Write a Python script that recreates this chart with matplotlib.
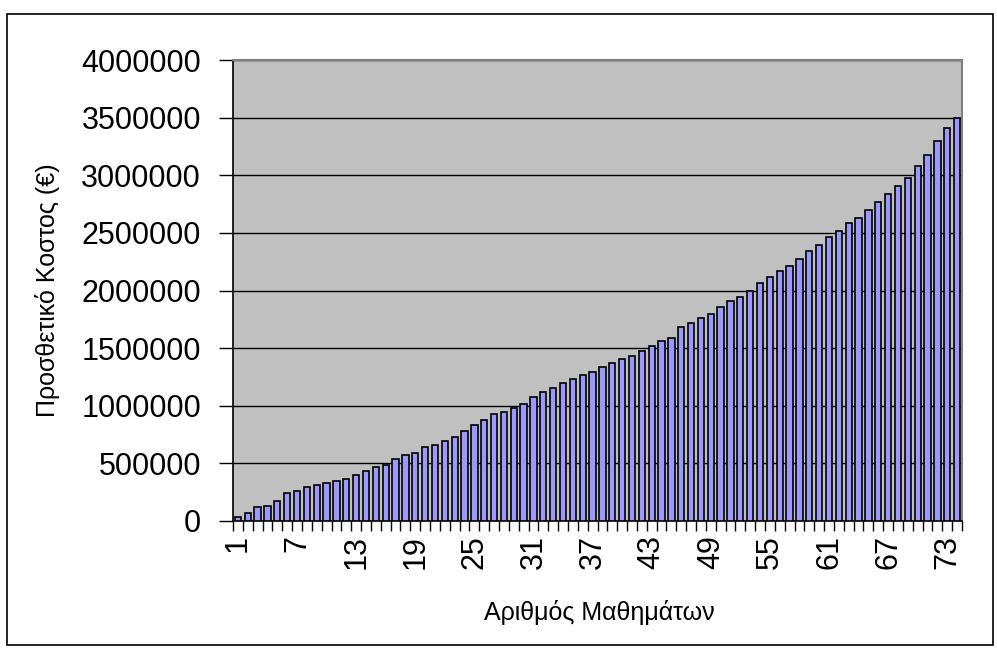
import numpy as np
import matplotlib.pyplot as plt
from matplotlib.patches import Rectangle

plt.rcParams['font.family'] = ['Liberation Sans', 'DejaVu Sans']

# Προσθετικό κόστος ανά αριθμό μαθημάτων
mathimata = list(range(1, 75))
kostos = [32000, 67000, 119000, 133000, 171000, 243000, 257000, 292000, 312000, 330000,
          344000, 364000, 397000, 434000, 466000, 483000, 535000, 570000, 587000, 640000,
          657000, 692000, 726000, 778000, 830000, 879000, 931000, 948000, 983000, 1018000,
          1073000, 1122000, 1157000, 1195000, 1230000, 1264000, 1295000, 1334000, 1368000, 1403000,
          1434000, 1473000, 1521000, 1559000, 1590000, 1681000, 1715000, 1764000, 1799000, 1854000,
          1906000, 1941000, 1993000, 2063000, 2115000, 2169000, 2215000, 2271000, 2340000, 2392000,
          2462000, 2514000, 2586000, 2632000, 2701000, 2771000, 2840000, 2909000, 2980000, 3080000,
          3180000, 3300000, 3410000, 3500000]
y_ticks = [0, 500000, 1000000, 1500000, 2000000, 2500000, 3000000, 3500000, 4000000]
x_labels = [1, 7, 13, 19, 25, 31, 37, 43, 49, 55, 61, 67, 73]

W, H = 997, 653
fig = plt.figure(figsize=(W / 100, H / 100), dpi=100)
ax = fig.add_axes([233 / W, 1 - 521 / H, (962 - 233) / W, (521 - 60) / H])

ax.set_facecolor('#C0C0C0')
ax.bar(mathimata, kostos, width=0.64, color='#9999FF', edgecolor='black', linewidth=1.2, zorder=3)

ax.set_xlim(0.5, len(mathimata) + 0.5)
ax.set_ylim(0, 4000000)
ax.set_yticks(y_ticks)
ax.set_yticklabels([str(v) for v in y_ticks], fontsize=22)
ax.yaxis.grid(True, color='black', linewidth=1.0, zorder=1)

# ετικέτες κάθε 6 μαθήματα, γραμμές στα όρια κατηγοριών
ax.set_xticks(x_labels)
ax.set_xticklabels([str(v) for v in x_labels], rotation=90, fontsize=22)
ax.set_xticks(np.arange(0.5, len(mathimata) + 1, 1), minor=True)
ax.tick_params(axis='x', which='major', length=0, pad=10)
ax.tick_params(axis='x', which='minor', length=7, width=1, color='black')
ax.tick_params(axis='y', length=10, width=1, pad=13)

for s in ['left', 'bottom']:
    ax.spines[s].set_color('black')
    ax.spines[s].set_linewidth(1.2)
for s in ['top', 'right']:
    ax.spines[s].set_color('#808080')
    ax.spines[s].set_linewidth(1.5)

ax.set_xlabel('Αριθμός Μαθημάτων', fontsize=18)
ax.set_ylabel('Προσθετικό Κοστος (€)', fontsize=18)
ax.xaxis.set_label_coords(0.503, -0.172)
ax.yaxis.set_label_coords(-0.237, 0.5)

# πλαίσιο γραφήματος
fig.patches.append(Rectangle((7 / W, 1 - 645 / H), (993 - 7) / W, (645 - 14) / H,
                             transform=fig.transFigure, fill=False, edgecolor='black',
                             linewidth=1.2))

fig.savefig('out.png', dpi=100)
